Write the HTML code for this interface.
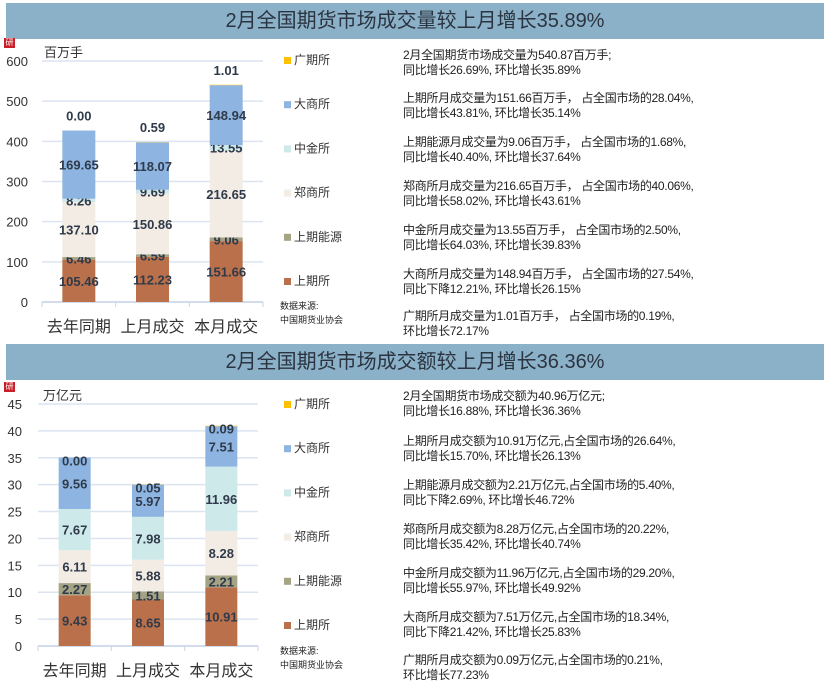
<!DOCTYPE html>
<html><head><meta charset="utf-8">
<style>
body{margin:0;width:827px;height:694px;background:#fff;position:relative;overflow:hidden;font-family:"Liberation Sans","Noto Sans CJK SC",sans-serif;color:#333}
.tb{position:absolute;left:6px;width:818px;height:36px;background:#8bb1c8;font-size:20px;line-height:36px;text-align:center;color:#2b3440}
.ico{position:absolute;left:4px;width:11px;height:10px;background:#c8202a;color:#fff;font-size:8px;line-height:10px;text-align:center}
.txt{position:absolute;left:403px;font-size:12px;line-height:15px;color:#222;white-space:nowrap;letter-spacing:-0.3px}
svg{position:absolute;left:0;top:0}
</style></head><body>
<div class="tb" style="top:3px">2月全国期货市场成交量较上月增长35.89%</div>
<div class="tb" style="top:344px">2月全国期货市场成交额较上月增长36.36%</div>
<div class="ico" style="top:38px">研</div>
<div class="ico" style="top:382px">研</div>
<div>
<div class="txt" style="top:48px">2月全国期货市场成交量为540.87百万手;<br>同比增长26.69%, 环比增长35.89%</div>
<div class="txt" style="top:91px">上期所月成交量为151.66百万手， 占全国市场的28.04%,<br>同比增长43.81%, 环比增长35.14%</div>
<div class="txt" style="top:135px">上期能源月成交量为9.06百万手， 占全国市场的1.68%,<br>同比增长40.40%, 环比增长37.64%</div>
<div class="txt" style="top:179px">郑商所月成交量为216.65百万手， 占全国市场的40.06%,<br>同比增长58.02%, 环比增长43.61%</div>
<div class="txt" style="top:223px">中金所月成交量为13.55百万手， 占全国市场的2.50%,<br>同比增长64.03%, 环比增长39.83%</div>
<div class="txt" style="top:267px">大商所月成交量为148.94百万手， 占全国市场的27.54%,<br>同比下降12.21%, 环比增长26.15%</div>
<div class="txt" style="top:309px">广期所月成交量为1.01百万手， 占全国市场的0.19%,<br>环比增长72.17%</div>
</div>
<div>
<div class="txt" style="top:389px">2月全国期货市场成交额为40.96万亿元;<br>同比增长16.88%, 环比增长36.36%</div>
<div class="txt" style="top:434px">上期所月成交额为10.91万亿元,占全国市场的26.64%,<br>同比增长15.70%, 环比增长26.13%</div>
<div class="txt" style="top:478px">上期能源月成交额为2.21万亿元,占全国市场的5.40%,<br>同比下降2.69%, 环比增长46.72%</div>
<div class="txt" style="top:522px">郑商所月成交额为8.28万亿元,占全国市场的20.22%,<br>同比增长35.42%, 环比增长40.74%</div>
<div class="txt" style="top:566px">中金所月成交额为11.96万亿元,占全国市场的29.20%,<br>同比增长55.97%, 环比增长49.92%</div>
<div class="txt" style="top:610px">大商所月成交额为7.51万亿元,占全国市场的18.34%,<br>同比下降21.42%, 环比增长25.83%</div>
<div class="txt" style="top:653px">广期所月成交额为0.09万亿元,占全国市场的0.21%,<br>环比增长77.23%</div>
</div>
<svg id="s" width="827" height="694"></svg>
<script>
const categories=["去年同期","上月成交","本月成交"];
const seriesNames=["上期所","上期能源","郑商所","中金所","大商所","广期所"];
const colors=["#b9704b","#a4a384","#f3ece5","#cde9ea","#8eb4e1","#ffc000"];
const volSHFE=[105.46,112.23,151.66];
const volINE=[6.46,6.59,9.06];
const volCZCE=[137.10,150.86,216.65];
const volCFFEX=[8.26,9.69,13.55];
const volDCE=[169.65,118.07,148.94];
const volGFEX=[0.00,0.59,1.01];
const volTicks=[0,100,200,300,400,500,600];
const valSHFE=[9.43,8.65,10.91];
const valINE=[2.27,1.51,2.21];
const valCZCE=[6.11,5.88,8.28];
const valCFFEX=[7.67,7.98,11.96];
const valDCE=[9.56,5.97,7.51];
const valGFEX=[0.00,0.05,0.09];
const valTicks=[0,5,10,15,20,25,30,35,40,45];
const NS="http://www.w3.org/2000/svg";
const svg=document.getElementById('s');
function mk(t,a,txt){const e=document.createElementNS(NS,t);for(const k in a)e.setAttribute(k,a[k]);if(txt!=null)e.textContent=txt;svg.appendChild(e);return e;}
function chart(o){
  const y=v=>o.y0-(v-o.tmin)/(o.tmax-o.tmin)*(o.y0-o.ytop);
  o.ticks.forEach(t=>{
    const l=mk('line',{x1:o.gx0,x2:o.gx1,y1:y(t),y2:y(t),stroke:'#dbe4f0','stroke-width':1.5});
    
    
    const tx=mk('text',{x:o.tx,y:y(t)+5,'text-anchor':'end','font-size':13,fill:'#333'},String(t));
    
    
  });
  const ax=mk('line',{x1:o.gx0,x2:o.gx1,y1:o.y0,y2:o.y0,stroke:'#c9d6e8','stroke-width':1.5});
  
  
  const step=(o.gx1-o.gx0)/3;
  for(let i=0;i<=3;i++){const tk=mk('line',{x1:o.gx0+i*step,x2:o.gx0+i*step,y1:o.y0,y2:o.y0+5,stroke:'#c9d6e8'});}
  const un=mk('text',{x:o.ux,y:o.ytop-4,'font-size':13,fill:'#333'},o.unit);
  
  
  categories.forEach((c,i)=>{
    const cx=o.gx0+step*(i+0.5);
    const cl=mk('text',{x:cx,y:o.y0+30,'text-anchor':'middle','font-size':16,fill:'#333'},c);
    
    
    let acc=0;
    o.series.forEach((arr,s)=>{
      const v=arr[i],y1=y(acc),y2=y(acc+v);acc+=v;
      const r=mk('rect',{x:cx-o.bw/2,y:y2,width:o.bw,height:Math.max(0,y1-y2),fill:colors[s]});
      
      
      let ly=(y1+y2)/2+5;
      if(s===5&&o.topAbove) ly=y2-10;
      else if(s===5) ly=y2+8;
      const lt=mk('text',{x:cx,y:ly,'text-anchor':'middle','font-size':13,'font-weight':'bold',fill:'#2f3a4a'},v.toFixed(2));
      
      
    });
  });
  for(let s=5;s>=0;s--){
    const ly=o.ly0+(5-s)*o.lstep;
    const sq=mk('rect',{x:284,y:ly-7,width:7,height:7,fill:colors[s]});
    
    
    const lt=mk('text',{x:294,y:ly,'font-size':12,fill:'#333'},seriesNames[s]);
    
    
  }
  const d1=mk('text',{x:280,y:o.srcY,'font-size':9,fill:'#222'},'数据来源:');
  
  
  const d2=mk('text',{x:280,y:o.srcY+14,'font-size':9,fill:'#222'},'中国期货业协会');
  
  
}
chart({series:[volSHFE,volINE,volCZCE,volCFFEX,volDCE,volGFEX],ticks:volTicks,tmin:0,tmax:600,y0:302,ytop:61,gx0:42,gx1:263,tx:28,bw:33,unit:'百万手',ux:44,topAbove:true,ly0:64,lstep:44.2,srcY:309});
chart({series:[valSHFE,valINE,valCZCE,valCFFEX,valDCE,valGFEX],ticks:valTicks,tmin:0,tmax:45,y0:646,ytop:404,gx0:38,gx1:258,tx:22,bw:32,unit:'万亿元',ux:43,topAbove:false,ly0:408,lstep:44.2,srcY:654});
</script>
</body></html>
